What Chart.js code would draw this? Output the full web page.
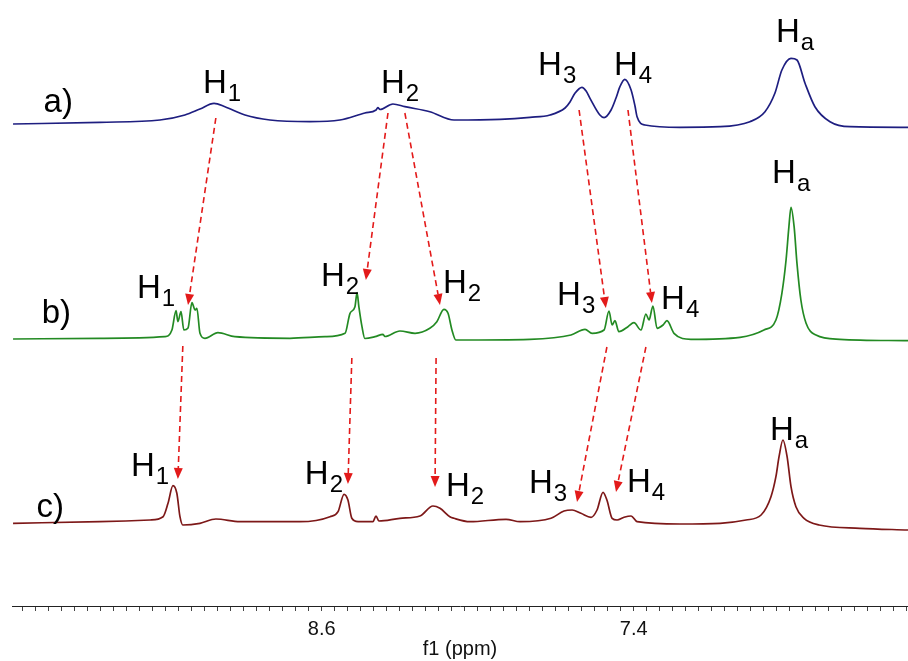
<!DOCTYPE html>
<html>
<head>
<meta charset="utf-8">
<script src="https://cdn.jsdelivr.net/npm/chart.js@4.4.1/dist/chart.umd.min.js"></script>
<style>
  body { margin: 0; background: #fff; }
  #wrap { width: 908px; height: 661px; }
</style>
</head>
<body>
<div id="wrap"><canvas id="nmr"></canvas></div>
<script>
// chemical shift (ppm) and intensity (relative to each trace's baseline)
const ppmA = [9.787, 9.453, 9.222, 9.126, 9.068, 9.014, 8.972, 8.895, 8.799, 8.645, 8.530, 8.434, 8.391, 8.384, 8.376, 8.326, 8.280, 8.184, 8.091,
    7.914, 7.799, 7.722, 7.664, 7.645, 7.626, 7.599, 7.583, 7.568, 7.530, 7.514, 7.487, 7.468, 7.453, 7.434, 7.410, 7.395, 7.387, 7.357,
    7.222, 7.068, 6.953, 6.895, 6.857, 6.830, 6.795, 6.772, 6.741, 6.703, 6.645, 6.568, 6.345];
const intA = [0, 1.7, 4, 9, 15, 20.7, 17.3, 9, 4, 2.3, 4, 11, 14, 16.5, 14.5, 20, 17.3, 12.3, 4,
    4.7, 6.7, 9, 16, 22, 30.7, 36.7, 33, 25.7, 9, 6.3, 14, 26, 37.3, 44.7, 34, 18, 7.3, -1,
    -3.3, -2.7, 2.3, 12.3, 30.7, 54, 65.7, 64, 40.7, 17.3, 2.3, -2.7, -3.3];

const ppmB = [9.787, 9.453, 9.203, 9.176, 9.160, 9.153, 9.141, 9.130, 9.114, 9.099, 9.087, 9.080, 9.068, 9.049, 8.999, 8.934, 8.722,
    8.587, 8.510, 8.491, 8.472, 8.464, 8.457, 8.445, 8.434, 8.395, 8.364, 8.357, 8.299, 8.241, 8.184, 8.157, 8.130, 8.114, 8.099, 8.084,
    7.799, 7.641, 7.587, 7.560, 7.514, 7.495, 7.483, 7.472, 7.457, 7.422, 7.399, 7.372, 7.353, 7.341, 7.326, 7.310, 7.287, 7.272, 7.245,
    7.180, 6.991, 6.899, 6.853, 6.830, 6.814, 6.803, 6.795, 6.783, 6.772, 6.757, 6.737, 6.699, 6.607, 6.345];
const intB = [0, 0.7, 2.3, 9, 28.3, 17.3, 27.3, 9, 11, 36.3, 29, 30.7, 5.7, 0.7, 6.3, 2.3, 0.7,
    2.3, 5.7, 25.7, 32.3, 46.3, 32.3, 12.3, 0.5, 2.3, 4.7, 2.5, 8, 5.7, 10.7, 17.3, 29.7, 25.7, 9, -1,
    -0.3, 4, 9.7, 5.7, 9, 28, 14, 18.3, 7.3, 12.3, 16.3, 9, 25, 19, 33, 10.7, 14, 18.3, 5.7,
    -0.3, 1.7, 9, 19, 45.7, 79, 112.3, 131.7, 112.3, 75.7, 39, 15.7, 4, -0.3, -1.7];

const ppmC = [9.787, 9.453, 9.260, 9.210, 9.191, 9.172, 9.157, 9.145, 9.134, 9.068, 9.007, 8.914, 8.684, 8.568, 8.537, 8.514, 8.499,
    8.484, 8.460, 8.403, 8.391, 8.380, 8.299, 8.222, 8.172, 8.145, 8.107, 8.091, 8.030, 7.891, 7.837, 7.718, 7.668, 7.637, 7.603,
    7.564, 7.541, 7.518, 7.503, 7.483, 7.464, 7.437, 7.410, 7.387, 7.222, 7.068, 6.968, 6.910, 6.872, 6.853, 6.841, 6.826, 6.810,
    6.795, 6.776, 6.745, 6.687, 6.530, 6.345];
const intC = [-0.3, 1.3, 3, 6.3, 19.7, 37.3, 29.7, 6.3, -2, -0.3, 4, 1.3, 1.3, 6.3, 11.3, 28.7, 23,
    4.7, 1.3, 1.3, 7, 2, 4.7, 7, 17, 14.7, 6.3, 4.7, 1.3, 3.7, 1.3, 4.7, 12, 13, 9.7,
    5.7, 13, 30.7, 23, 4.7, 3, 5.7, 7, 1.3, -1, -0.3, 3, 8, 26.3, 46.3, 66.3, 83, 66.3,
    36.3, 16.3, 4.7, -2, -5.3, -7];

const traceNames = ["a)", "b)", "c)"];
const traceOffsets = [482, 267, 83];
const traceColors = ["#1e1e80", "#238a23", "#7d1818"];

const labeledTicks = [8.6, 7.4];
const minorStep = 0.05;

// peak labels: [main, subscript, ppm, level]
const peakLabels = [
    ["H", "1", 9.049, 513], ["H", "2", 8.364, 513], ["H", "3", 7.760, 531], ["H", "4", 7.468, 531], ["H", "a", 6.845, 564],
    ["H", "1", 9.303, 308], ["H", "2", 8.595, 320], ["H", "2", 8.126, 313], ["H", "3", 7.687, 301], ["H", "4", 7.287, 297], ["H", "a", 6.860, 423],
    ["H", "1", 9.326, 130], ["H", "2", 8.657, 122], ["H", "2", 8.114, 110], ["H", "3", 7.795, 113], ["H", "4", 7.418, 114], ["H", "a", 6.868, 166]
];
const traceLabelPos = [[9.662, 494], [9.669, 283], [9.689, 89]];

// shift arrows: [ppm from, level from, ppm to, level to]
const shiftArrows = [
    [9.007, 488, 9.114, 301], [8.345, 493, 8.430, 326], [8.280, 493, 8.145, 301],
    [7.610, 496, 7.507, 298], [7.422, 496, 7.330, 303],
    [9.134, 260, 9.153, 127], [8.484, 248, 8.499, 122], [8.160, 248, 8.164, 119],
    [7.503, 259, 7.618, 104], [7.353, 259, 7.468, 114]
];

function toPoints(ppm, ints, offset) {
    return ppm.map((p, i) => ({ x: p, y: ints[i] + offset }));
}

const annotations = {
    id: "annotations",
    afterDatasetsDraw(chart) {
        const ctx = chart.ctx;
        const xs = chart.scales.x;
        const ys = chart.scales.y;
        ctx.save();

        // dashed arrows
        ctx.strokeStyle = "#e31a1a";
        ctx.fillStyle = "#e31a1a";
        ctx.lineWidth = 1.6;
        shiftArrows.forEach(a => {
            const x0 = xs.getPixelForValue(a[0]), y0 = ys.getPixelForValue(a[1]);
            const x1 = xs.getPixelForValue(a[2]), y1 = ys.getPixelForValue(a[3]);
            const ang = Math.atan2(y1 - y0, x1 - x0);
            const headLen = 11, headW = 4.5;
            const bx = x1 - headLen * Math.cos(ang), by = y1 - headLen * Math.sin(ang);
            ctx.setLineDash([6, 4]);
            ctx.beginPath();
            ctx.moveTo(x0, y0);
            ctx.lineTo(bx, by);
            ctx.stroke();
            ctx.setLineDash([]);
            ctx.beginPath();
            ctx.moveTo(x1, y1);
            ctx.lineTo(bx + headW * Math.sin(ang), by - headW * Math.cos(ang));
            ctx.lineTo(bx - headW * Math.sin(ang), by + headW * Math.cos(ang));
            ctx.closePath();
            ctx.fill();
        });

        // text labels
        ctx.fillStyle = "#000";
        ctx.textBaseline = "alphabetic";
        ctx.textAlign = "left";
        peakLabels.forEach(l => {
            const x = xs.getPixelForValue(l[2]) - 2;
            const y = ys.getPixelForValue(l[3]);
            ctx.font = '33px "Liberation Sans", Arial, sans-serif';
            ctx.fillText(l[0], x, y);
            const w = ctx.measureText(l[0]).width;
            ctx.font = '24px "Liberation Sans", Arial, sans-serif';
            ctx.fillText(l[1], x + w + 1, y + 8);
        });
        ctx.font = '33px "Liberation Sans", Arial, sans-serif';
        traceLabelPos.forEach((p, i) => {
            ctx.fillText(traceNames[i], xs.getPixelForValue(p[0]) - 2, ys.getPixelForValue(p[1]));
        });
        ctx.restore();
    }
};

new Chart(document.getElementById("nmr"), {
    type: "line",
    data: {
        datasets: [
            { label: "a", data: toPoints(ppmA, intA, traceOffsets[0]), borderColor: traceColors[0] },
            { label: "b", data: toPoints(ppmB, intB, traceOffsets[1]), borderColor: traceColors[1] },
            { label: "c", data: toPoints(ppmC, intC, traceOffsets[2]), borderColor: traceColors[2] }
        ]
    },
    options: {
        responsive: true,
        maintainAspectRatio: false,
        animation: false,
        layout: { padding: { left: 12, right: 0, top: 0, bottom: 0 } },
        elements: {
            line: { borderWidth: 1.7, cubicInterpolationMode: "monotone", fill: false },
            point: { radius: 0 }
        },
        plugins: { legend: { display: false }, tooltip: { enabled: false } },
        scales: {
            x: {
                type: "linear",
                reverse: true,
                min: 6.345,
                max: 9.791,
                afterBuildTicks: scale => {
                    const ticks = [];
                    for (let v = Math.ceil(scale.min / minorStep) * minorStep; v <= scale.max; v += minorStep) {
                        ticks.push({ value: Math.round(v * 100) / 100 });
                    }
                    scale.ticks = ticks;
                },
                afterFit: scale => { scale.height = 55; },
                ticks: {
                    autoSkip: false,
                    maxRotation: 0,
                    padding: 6,
                    color: "#111",
                    font: { family: '"Liberation Sans", Arial, sans-serif', size: 20 },
                    callback: v => labeledTicks.some(t => Math.abs(t - v) < 1e-6) ? v.toFixed(1) : ""
                },
                grid: { drawOnChartArea: false, drawTicks: true, tickLength: 5, color: "#444" },
                border: { display: true, color: "#222", width: 1 },
                title: {
                    display: true,
                    text: "f1 (ppm)",
                    color: "#111",
                    font: { family: '"Liberation Sans", Arial, sans-serif', size: 20 },
                    padding: { top: 0, bottom: 0 }
                }
            },
            y: { type: "linear", display: false, min: 0, max: 606 }
        }
    },
    plugins: [annotations]
});
</script>
</body>
</html>
